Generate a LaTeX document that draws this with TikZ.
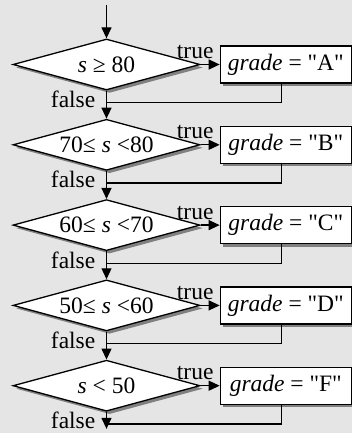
\documentclass[tikz,border=0pt]{standalone}
\usepackage{fontspec}
\setmainfont{Liberation Serif}[Ligatures=TeXOff]
\definecolor{bggray}{RGB}{229,229,229}
\definecolor{shadowgray}{RGB}{128,128,128}
\usetikzlibrary{arrows.meta,positioning,shapes.geometric,shadows}

\begin{document}
\begin{tikzpicture}[x=1pt, y=-1pt, font=\fontsize{23.5}{28}\selectfont,
  flow/.style={line width=1.3pt},
  arr/.style={flow, -{Triangle[length=11pt,width=10pt]}},
  test/.style={diamond, draw, fill=white, line width=1.3pt, inner sep=0pt, shape aspect=3.67, minimum width=187pt, minimum height=51pt, drop shadow={shadow xshift=3pt, shadow yshift=-3pt, fill=shadowgray, opacity=1}},
  gradebox/.style={rectangle, draw, fill=white, line width=1.3pt, inner sep=0pt, minimum width=131pt, minimum height=37pt, drop shadow={shadow xshift=3pt, shadow yshift=-3pt, fill=shadowgray, opacity=1}},
  lbl/.style={inner sep=0pt}]
  \fill[bggray] (0,0) rectangle (352,433);
  \useasboundingbox (0,0) rectangle (352,433);

  % tests
  \node[test] (d1) at (106.5,64.5) {{\itshape s} ≥ 80};
  \node[test, below=28pt of d1] (d2) {70≤ {\itshape s} <80};
  \node[test, below=28pt of d2] (d3) {60≤ {\itshape s} <70};
  \node[test, below=28pt of d3] (d4) {50≤ {\itshape s} <60};
  \node[test, below=28pt of d4] (d5) {{\itshape s} < 50};

  % assignments
  \node[gradebox, right=19pt of d1] (b1) {{\itshape grade} = "A"};
  \node[gradebox, right=19pt of d2] (b2) {{\itshape grade} = "B"};
  \node[gradebox, right=19pt of d3] (b3) {{\itshape grade} = "C"};
  \node[gradebox, right=19pt of d4] (b4) {{\itshape grade} = "D"};
  \node[gradebox, right=19pt of d5] (b5) {{\itshape grade} = "F"};

  \coordinate (start) at (106.5,5);
  \coordinate[below=17pt of d5.south] (stop);
  \coordinate[below=12pt of d1.south] (m1);
  \coordinate[below=12pt of d2.south] (m2);
  \coordinate[below=12pt of d3.south] (m3);
  \coordinate[below=12pt of d4.south] (m4);
  \coordinate[below=12pt of d5.south] (m5);

  % false branch
  \draw[arr] (start) -- (d1.north);
  \draw[arr] (d1.south) -- (d2.north);
  \draw[arr] (d2.south) -- (d3.north);
  \draw[arr] (d3.south) -- (d4.north);
  \draw[arr] (d4.south) -- (d5.north);
  \draw[arr] (d5.south) -- (stop);

  % true branch
  \draw[arr] (d1.east) -- (b1.west);
  \draw[arr] (d2.east) -- (b2.west);
  \draw[arr] (d3.east) -- (b3.west);
  \draw[arr] (d4.east) -- (b4.west);
  \draw[arr] (d5.east) -- (b5.west);

  \draw[flow] ([xshift=-4pt]b1.south) |- (m1);
  \draw[flow] ([xshift=-4pt]b2.south) |- (m2);
  \draw[flow] ([xshift=-4pt]b3.south) |- (m3);
  \draw[flow] ([xshift=-4pt]b4.south) |- (m4);
  \draw[flow] ([xshift=-4pt]b5.south) |- (m5);

  \node[lbl, anchor=base east] (t1) at ([xshift=13pt,yshift=6pt]d1.east) {true};
  \node[lbl, anchor=base east] (t2) at ([xshift=13pt,yshift=6pt]d2.east) {true};
  \node[lbl, anchor=base east] (t3) at ([xshift=13pt,yshift=6pt]d3.east) {true};
  \node[lbl, anchor=base east] (t4) at ([xshift=13pt,yshift=6pt]d4.east) {true};
  \node[lbl, anchor=base east] (t5) at ([xshift=13pt,yshift=6pt]d5.east) {true};

  \node[lbl, anchor=base east] (f1) at ([xshift=-11pt,yshift=-17pt]d1.south) {false};
  \node[lbl, anchor=base east] (f2) at ([xshift=-11pt,yshift=-17pt]d2.south) {false};
  \node[lbl, anchor=base east] (f3) at ([xshift=-11pt,yshift=-17pt]d3.south) {false};
  \node[lbl, anchor=base east] (f4) at ([xshift=-11pt,yshift=-17pt]d4.south) {false};
  \node[lbl, anchor=base east] (f5) at ([xshift=-11pt,yshift=-17pt]d5.south) {false};
\end{tikzpicture}
\end{document}
